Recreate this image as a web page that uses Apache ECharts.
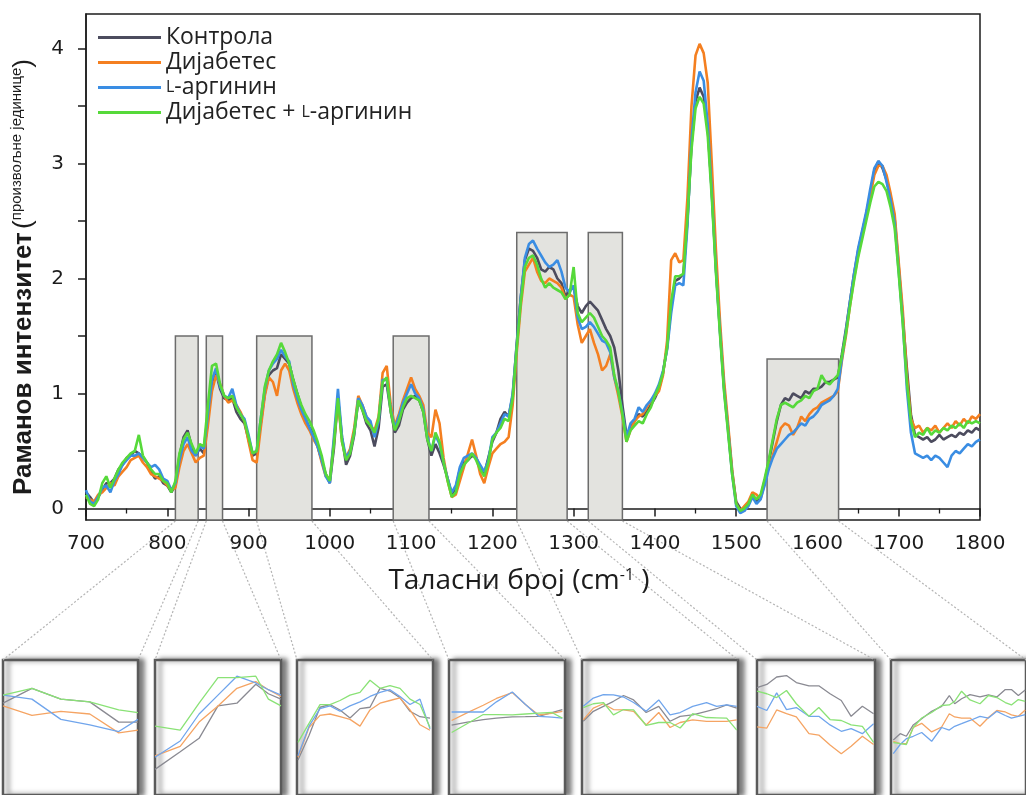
<!DOCTYPE html>
<html>
<head>
<meta charset="utf-8">
<script src="https://cdn.jsdelivr.net/npm/echarts@6/dist/echarts.min.js"></script>
<style>
  html, body { margin: 0; padding: 0; background: #fff; }
  #chart { width: 1026px; height: 795px; }
</style>
</head>
<body>
<div id="chart"></div>
<script>
// Raman spectra, 700–1800 cm⁻¹, sampled every 5 cm⁻¹
const WN_START = 700;
const WN_STEP = 5;

const seriesNames = ['Контрола', 'Дијабетес', 'L-аргинин', 'Дијабетес + L-аргинин'];
const seriesColors = ['#4c4c5e', '#f47f20', '#3a8de3', '#56d93a'];
const insetColors = ['#8a8a92', '#f5a463', '#70a5ec', '#8ae276'];

const control = [
  0.14,0.10,0.05,0.10,0.16,0.22,0.22,0.26,0.34,0.38,0.44,0.46,0.50,0.48,0.44,0.40,0.32,0.26,0.28,0.22,
  0.20,0.14,0.20,0.46,0.62,0.68,0.54,0.46,0.52,0.48,0.78,1.10,1.18,1.04,0.96,0.94,0.96,0.84,0.78,0.74,
  0.60,0.46,0.48,0.74,1.00,1.16,1.20,1.22,1.34,1.30,1.26,1.12,1.00,0.88,0.78,0.70,0.64,0.54,0.42,0.30,
  0.22,0.52,0.96,0.62,0.38,0.46,0.64,0.94,0.86,0.74,0.68,0.54,0.70,1.06,1.08,0.84,0.66,0.72,0.86,0.92,
  0.96,0.98,0.94,0.84,0.60,0.46,0.56,0.48,0.38,0.26,0.12,0.18,0.34,0.40,0.42,0.46,0.44,0.36,0.30,0.44,
  0.58,0.66,0.78,0.84,0.80,0.98,1.44,1.84,2.16,2.26,2.24,2.18,2.08,2.06,2.10,2.08,2.00,1.96,1.84,1.90,
  1.92,1.76,1.70,1.76,1.80,1.76,1.72,1.64,1.56,1.50,1.40,1.20,0.90,0.64,0.70,0.76,0.82,0.80,0.84,0.90,
  0.96,1.04,1.18,1.40,1.76,1.98,2.00,2.04,2.50,3.16,3.54,3.66,3.58,3.30,2.76,2.10,1.56,1.06,0.70,0.32,
  0.06,0.00,-0.02,0.04,0.12,0.06,0.10,0.24,0.40,0.58,0.76,0.90,0.96,0.94,1.00,0.98,0.96,1.02,1.00,1.04,
  1.04,1.06,1.10,1.10,1.12,1.14,1.34,1.56,1.80,2.04,2.24,2.40,2.56,2.74,2.94,3.02,2.96,2.86,2.70,2.52,
  2.10,1.66,1.22,0.82,0.64,0.62,0.60,0.62,0.58,0.60,0.64,0.60,0.62,0.64,0.62,0.66,0.64,0.68,0.66,0.70,
  0.68
];

const diabetes = [
  0.10,0.08,0.06,0.12,0.14,0.18,0.22,0.20,0.28,0.32,0.36,0.42,0.44,0.46,0.40,0.36,0.30,0.28,0.26,0.24,
  0.20,0.16,0.18,0.36,0.50,0.56,0.48,0.40,0.44,0.46,0.72,1.02,1.16,1.08,0.98,0.92,0.94,0.90,0.84,0.76,
  0.58,0.42,0.40,0.70,0.98,1.14,1.10,0.98,1.20,1.26,1.20,1.04,0.92,0.82,0.74,0.68,0.60,0.54,0.40,0.28,
  0.26,0.58,0.94,0.58,0.44,0.52,0.70,0.98,0.90,0.80,0.72,0.68,0.80,1.18,1.24,0.90,0.72,0.82,0.94,1.04,
  1.14,1.04,0.98,0.90,0.66,0.62,0.86,0.74,0.44,0.24,0.10,0.12,0.24,0.36,0.48,0.60,0.46,0.30,0.22,0.36,
  0.48,0.52,0.56,0.58,0.62,0.90,1.36,1.76,2.06,2.12,2.18,2.06,1.98,1.96,2.00,1.98,1.96,1.92,1.82,1.86,
  1.84,1.60,1.44,1.50,1.56,1.44,1.34,1.20,1.24,1.34,1.14,0.98,0.80,0.58,0.68,0.76,0.80,0.82,0.88,0.94,
  0.98,1.02,1.16,1.46,2.16,2.22,2.14,2.16,2.70,3.50,3.94,4.04,3.96,3.70,3.00,2.26,1.64,1.12,0.74,0.34,
  0.04,-0.02,0.02,0.06,0.14,0.12,0.08,0.22,0.36,0.46,0.58,0.70,0.74,0.72,0.64,0.70,0.80,0.76,0.82,0.86,
  0.88,0.92,0.94,0.96,0.98,1.02,1.28,1.50,1.76,2.00,2.20,2.38,2.54,2.72,2.90,2.98,2.98,2.90,2.74,2.56,
  2.14,1.72,1.16,0.78,0.70,0.72,0.66,0.70,0.68,0.72,0.66,0.70,0.74,0.70,0.76,0.72,0.78,0.74,0.80,0.78,
  0.82
];

const arginine = [
  0.16,0.06,0.04,0.10,0.18,0.20,0.14,0.24,0.30,0.38,0.42,0.46,0.46,0.48,0.44,0.40,0.36,0.38,0.34,0.26,
  0.24,0.16,0.22,0.42,0.56,0.62,0.50,0.46,0.54,0.52,0.82,1.12,1.22,1.06,0.98,0.96,1.04,0.90,0.82,0.78,
  0.64,0.48,0.50,0.78,1.04,1.20,1.26,1.30,1.38,1.32,1.28,1.08,0.96,0.86,0.78,0.70,0.62,0.54,0.42,0.28,
  0.22,0.62,1.04,0.62,0.44,0.50,0.66,0.96,0.90,0.80,0.76,0.62,0.76,1.12,1.12,0.86,0.70,0.80,0.92,1.00,
  1.08,1.00,0.96,0.86,0.62,0.50,0.64,0.56,0.40,0.26,0.14,0.20,0.36,0.44,0.46,0.48,0.44,0.38,0.32,0.42,
  0.62,0.66,0.74,0.82,0.80,1.00,1.42,1.84,2.18,2.30,2.33,2.26,2.20,2.14,2.10,2.12,2.16,2.06,1.92,1.88,
  1.94,1.66,1.56,1.58,1.62,1.58,1.52,1.46,1.44,1.36,1.14,1.02,0.84,0.62,0.74,0.78,0.88,0.84,0.90,0.94,
  1.00,1.08,1.20,1.38,1.70,1.94,1.96,1.94,2.46,3.20,3.62,3.80,3.72,3.34,2.74,2.08,1.54,1.04,0.68,0.30,
  0.02,-0.04,-0.02,0.02,0.10,0.04,0.08,0.20,0.34,0.44,0.52,0.56,0.60,0.64,0.66,0.70,0.74,0.72,0.78,0.80,
  0.84,0.90,0.92,0.94,0.98,1.04,1.30,1.54,1.80,2.04,2.26,2.42,2.58,2.78,2.96,3.02,2.98,2.84,2.68,2.48,
  2.06,1.62,1.04,0.66,0.48,0.46,0.44,0.46,0.42,0.46,0.44,0.40,0.36,0.46,0.50,0.48,0.52,0.56,0.54,0.58,
  0.60
];

const combined = [
  0.12,0.04,0.02,0.08,0.22,0.28,0.18,0.26,0.34,0.40,0.44,0.48,0.50,0.64,0.46,0.40,0.34,0.30,0.30,0.24,
  0.22,0.14,0.24,0.48,0.60,0.66,0.56,0.48,0.56,0.54,0.90,1.24,1.26,1.08,0.98,0.96,0.98,0.88,0.82,0.76,
  0.62,0.48,0.50,0.78,1.06,1.20,1.28,1.34,1.44,1.36,1.26,1.12,1.00,0.90,0.82,0.76,0.68,0.58,0.46,0.30,
  0.24,0.56,0.96,0.58,0.42,0.48,0.66,0.94,0.86,0.76,0.72,0.66,0.78,1.10,1.14,0.84,0.68,0.76,0.88,0.96,
  0.98,0.96,0.94,0.84,0.60,0.50,0.66,0.58,0.40,0.24,0.10,0.14,0.30,0.38,0.42,0.48,0.42,0.34,0.28,0.40,
  0.60,0.66,0.70,0.78,0.76,0.96,1.40,1.80,2.10,2.18,2.20,2.12,2.00,1.92,1.96,1.92,1.90,1.88,1.82,1.86,
  2.10,1.70,1.62,1.66,1.70,1.66,1.58,1.50,1.46,1.40,1.16,1.02,0.82,0.58,0.68,0.72,0.76,0.74,0.82,0.88,
  0.98,1.06,1.18,1.40,1.80,2.02,2.02,2.04,2.52,3.12,3.48,3.58,3.52,3.24,2.70,2.06,1.52,1.02,0.66,0.30,
  0.04,-0.02,0.00,0.04,0.12,0.08,0.12,0.26,0.42,0.60,0.78,0.90,0.92,0.90,0.88,0.92,0.94,0.98,0.96,1.02,
  1.04,1.16,1.10,1.08,1.12,1.16,1.32,1.52,1.76,1.98,2.18,2.34,2.50,2.66,2.80,2.84,2.82,2.76,2.62,2.44,
  2.04,1.60,1.10,0.76,0.62,0.66,0.64,0.70,0.64,0.68,0.66,0.70,0.68,0.72,0.70,0.74,0.70,0.76,0.74,0.76,
  0.74
];

// highlighted bands: [from, to, height]
const regions = [
  [810, 838, 1.5], [848, 868, 1.5], [910, 978, 1.5], [1078, 1122, 1.5],
  [1230, 1292, 2.4], [1318, 1360, 2.4], [1538, 1626, 1.3]
];

// magnified views of each band (relative intensity, 1 = top of the frame)
const insetWn = [
  [810, 816, 822, 828, 834, 838],
  [848, 852, 855, 858, 861, 864, 866, 868],
  [910.5, 916, 921.5, 926.5, 931.5, 936.5, 941.5, 946.5, 951.5, 956.5, 961.5, 966.5, 971.5, 976.5],
  [1079, 1085, 1091, 1096, 1102, 1107, 1112, 1117, 1121],
  [1230.5, 1234.5, 1238.5, 1242.5, 1246.5, 1250.5, 1255.5, 1260.5, 1265, 1269, 1274, 1279.5, 1283.5, 1287.5, 1291.5],
  [1318, 1321.5, 1325, 1328.5, 1332, 1336.5, 1340, 1344, 1348, 1351.5, 1355.5, 1359.5],
  [1539.5, 1544, 1548, 1552.5, 1558, 1564.5, 1571, 1576, 1579.5, 1584, 1589.5, 1596, 1601.5, 1607, 1612.5, 1616.5, 1621, 1625.5]
];
const insetControl = [
  [0.68, 0.79, 0.71, 0.69, 0.54, 0.54],
  [0.19, 0.32, 0.42, 0.66, 0.68, 0.82, 0.75, 0.71],
  [0.26, 0.44, 0.65, 0.67, 0.63, 0.57, 0.64, 0.65, 0.79, 0.77, 0.72, 0.62, 0.58, 0.57],
  [0.518, 0.54, 0.559, 0.57, 0.578, 0.58, 0.583, 0.61, 0.633],
  [0.546, 0.62, 0.657, 0.694, 0.737, 0.704, 0.611, 0.657, 0.546, 0.583, 0.593, 0.62, 0.639, 0.667, 0.644],
  [0.796, 0.819, 0.874, 0.885, 0.833, 0.809, 0.809, 0.75, 0.70, 0.583, 0.657, 0.602],
  [0.407, 0.454, 0.435, 0.519, 0.565, 0.62, 0.657, 0.737, 0.676, 0.713, 0.744, 0.726, 0.741, 0.726, 0.781, 0.781, 0.737, 0.778]
];
const insetDiabetes = [
  [0.66, 0.59, 0.62, 0.60, 0.46, 0.48],
  [0.29, 0.36, 0.54, 0.66, 0.79, 0.84, 0.78, 0.73],
  [0.28, 0.50, 0.59, 0.60, 0.58, 0.56, 0.51, 0.63, 0.68, 0.70, 0.72, 0.63, 0.52, 0.48],
  [0.552, 0.61, 0.665, 0.715, 0.759, 0.67, 0.593, 0.605, 0.62],
  [0.556, 0.644, 0.676, 0.633, 0.63, 0.62, 0.519, 0.611, 0.50, 0.537, 0.556, 0.546, 0.546, 0.546, 0.556],
  [0.504, 0.496, 0.63, 0.602, 0.578, 0.454, 0.444, 0.37, 0.306, 0.361, 0.435, 0.374],
  [0.398, 0.38, 0.38, 0.50, 0.531, 0.467, 0.504, 0.602, 0.578, 0.57, 0.57, 0.509, 0.574, 0.626, 0.615, 0.593, 0.583, 0.63]
];
const insetArginine = [
  [0.74, 0.71, 0.56, 0.52, 0.47, 0.56],
  [0.28, 0.40, 0.60, 0.74, 0.88, 0.83, 0.78, 0.74],
  [0.29, 0.51, 0.64, 0.66, 0.62, 0.66, 0.69, 0.73, 0.76, 0.78, 0.73, 0.67, 0.71, 0.49],
  [0.615, 0.615, 0.615, 0.69, 0.763, 0.67, 0.583, 0.577, 0.57],
  [0.657, 0.718, 0.744, 0.741, 0.726, 0.685, 0.62, 0.704, 0.593, 0.611, 0.657, 0.685, 0.657, 0.667, 0.657],
  [0.657, 0.626, 0.756, 0.633, 0.648, 0.583, 0.583, 0.519, 0.472, 0.491, 0.454, 0.528],
  [0.306, 0.374, 0.417, 0.435, 0.463, 0.398, 0.50, 0.481, 0.509, 0.528, 0.552, 0.583, 0.57, 0.62, 0.589, 0.57, 0.583, 0.596]
];
const insetCombined = [
  [0.74, 0.79, 0.71, 0.69, 0.63, 0.61],
  [0.51, 0.48, 0.68, 0.87, 0.87, 0.88, 0.71, 0.66],
  [0.39, 0.53, 0.67, 0.67, 0.70, 0.74, 0.76, 0.85, 0.79, 0.81, 0.79, 0.71, 0.67, 0.50],
  [0.463, 0.53, 0.596, 0.595, 0.593, 0.60, 0.607, 0.611, 0.57],
  [0.648, 0.676, 0.685, 0.593, 0.633, 0.63, 0.515, 0.537, 0.537, 0.496, 0.602, 0.574, 0.572, 0.57, 0.481],
  [0.769, 0.75, 0.722, 0.774, 0.676, 0.583, 0.648, 0.559, 0.552, 0.519, 0.509, 0.389],
  [0.389, 0.38, 0.374, 0.50, 0.57, 0.611, 0.663, 0.667, 0.694, 0.769, 0.704, 0.676, 0.737, 0.722, 0.685, 0.667, 0.707, 0.694]
];

const xTickLabels = [700, 800, 900, 1000, 1100, 1200, 1300, 1400, 1500, 1600, 1700, 1800];
const yTickLabels = [0, 1, 2, 3, 4];
const yTicks = [0, 0.5, 1, 1.5, 2, 2.5, 3, 3.5, 4];

// ---- layout ----
const Y_MIN = -0.1, Y_MAX = 4.3;
const MAIN = { left: 86, top: 14, width: 894, height: 506 };
const INSET_TOP = 660, INSET_H = 180;
const insetBoxes = [[3, 135], [155, 126], [297, 136], [449, 116], [582, 156], [757, 118], [891, 136]];
const AXIS_COLOR = '#1c1c1c';

const wavenumbers = control.map((_, i) => WN_START + i * WN_STEP);
const spectra = [control, diabetes, arginine, combined];
const insetSets = [insetControl, insetDiabetes, insetArginine, insetCombined];

const chart = echarts.init(document.getElementById('chart'), null, { renderer: 'canvas' });

const grids = [Object.assign({
  show: true, borderColor: AXIS_COLOR, borderWidth: 1.5, backgroundColor: 'transparent'
}, MAIN)];
const xAxes = [{
  gridIndex: 0, type: 'value', min: 700, max: 1800, interval: 100,
  axisLine: { show: true, lineStyle: { color: AXIS_COLOR, width: 1.5 } },
  axisTick: { show: true, length: 8, lineStyle: { color: AXIS_COLOR, width: 1.5 } },
  minorTick: { show: true, splitNumber: 2, length: 5, lineStyle: { color: AXIS_COLOR, width: 1.3 } },
  splitLine: { show: false },
  axisLabel: {
    customValues: xTickLabels,
    formatter: v => String(v),
    fontFamily: 'DejaVu Sans', fontSize: 20, color: AXIS_COLOR, margin: 14
  },
  name: 'Таласни број (cm{sup|-1} )',
  nameLocation: 'middle', nameGap: 47,
  nameTextStyle: {
    fontFamily: 'Open Sans', fontSize: 28, color: AXIS_COLOR, padding: [0, 28, 0, 0],
    rich: { sup: { fontFamily: 'Open Sans', fontSize: 16, color: AXIS_COLOR, verticalAlign: 'top', lineHeight: 18 } }
  }
}];
const yAxes = [{
  gridIndex: 0, type: 'value', min: Y_MIN, max: Y_MAX,
  axisLine: { show: true, lineStyle: { color: AXIS_COLOR, width: 1.5 } },
  axisTick: { show: true, length: 8, customValues: yTicks, lineStyle: { color: AXIS_COLOR, width: 1.5 } },
  splitLine: { show: false },
  axisLabel: {
    customValues: yTickLabels,
    fontFamily: 'DejaVu Sans', fontSize: 20, color: AXIS_COLOR, margin: 22
  },
  name: '{b|Раманов интензитет} {p|(}{s|произвољне јединице}{p|)}',
  nameLocation: 'middle', nameRotate: 90, nameGap: 47,
  nameTextStyle: {
    padding: [0, 20, 0, 0],
    rich: {
      b: { fontFamily: 'Liberation Sans', fontWeight: 'bold', fontSize: 26, color: AXIS_COLOR, lineHeight: 30 },
      p: { fontFamily: 'Liberation Sans', fontSize: 26, color: AXIS_COLOR, lineHeight: 30 },
      s: { fontFamily: 'Liberation Sans', fontSize: 15, color: AXIS_COLOR, verticalAlign: 'top', lineHeight: 22 }
    }
  }
}];

const series = [{
  type: 'custom', name: 'bands', xAxisIndex: 0, yAxisIndex: 0, z: 1, silent: true,
  data: regions,
  encode: { x: [0, 1], y: 2 },
  renderItem: function (params, api) {
    const p0 = api.coord([api.value(0), api.value(2)]);
    const p1 = api.coord([api.value(1), Y_MIN]);
    return {
      type: 'rect',
      shape: { x: p0[0], y: p0[1], width: p1[0] - p0[0], height: p1[1] - p0[1] },
      style: { fill: '#e3e3df', stroke: '#6c6c6c', lineWidth: 1.5 }
    };
  }
}];

spectra.forEach((vals, s) => {
  series.push({
    type: 'line', name: seriesNames[s], xAxisIndex: 0, yAxisIndex: 0, z: 3 + s,
    data: wavenumbers.map((x, i) => [x, vals[i]]),
    symbol: 'none', showSymbol: false, smooth: false,
    lineStyle: { width: 2.6, color: seriesColors[s] },
    itemStyle: { color: seriesColors[s] }
  });
});

regions.forEach((r, k) => {
  const g = k + 1;
  grids.push({
    left: insetBoxes[k][0], width: insetBoxes[k][1], top: INSET_TOP, height: INSET_H,
    show: true, backgroundColor: '#ffffff', borderColor: '#5a5a5a', borderWidth: 2.5,
    shadowColor: 'rgba(0,0,0,0.5)', shadowBlur: 5, shadowOffsetX: 5, shadowOffsetY: 0
  });
  xAxes.push({ gridIndex: g, type: 'value', min: r[0], max: r[1], show: false });
  yAxes.push({ gridIndex: g, type: 'value', min: 0, max: 1, show: false });
  insetSets.forEach((set, s) => {
    series.push({
      type: 'line', name: seriesNames[s], xAxisIndex: g, yAxisIndex: g, z: 3 + s,
      data: insetWn[k].map((x, i) => [x, set[k][i]]),
      symbol: 'none', showSymbol: false, silent: true,
      lineStyle: { width: 1.3, color: insetColors[s] },
      itemStyle: { color: seriesColors[s] }
    });
  });
});

chart.setOption({
  animation: false,
  backgroundColor: '#ffffff',
  grid: grids,
  xAxis: xAxes,
  yAxis: yAxes,
  legend: {
    data: seriesNames,
    orient: 'vertical', left: 93, top: 20,
    icon: 'rect', itemWidth: 63, itemHeight: 3, itemGap: 0,
    formatter: n => n.replace('L-', '{sc|L}-'),
    textStyle: {
      fontFamily: 'Open Sans', fontSize: 23, color: '#222', lineHeight: 25,
      rich: { sc: { fontFamily: 'Open Sans', fontSize: 16, color: '#222', lineHeight: 25 } }
    }
  },
  series: series
});

// dotted leader lines from each band to its magnified frame
const leaders = [];
regions.forEach((r, k) => {
  const a = chart.convertToPixel({ gridIndex: 0 }, [r[0], Y_MIN]);
  const b = chart.convertToPixel({ gridIndex: 0 }, [r[1], Y_MIN]);
  const c = chart.convertToPixel({ gridIndex: k + 1 }, [r[0], 1]);
  const d = chart.convertToPixel({ gridIndex: k + 1 }, [r[1], 1]);
  [[a, c], [b, d]].forEach(([p, q]) => {
    leaders.push({
      type: 'line', silent: true, z: 0,
      shape: { x1: p[0], y1: p[1] + 1, x2: q[0], y2: q[1] },
      style: { stroke: '#b4b4b4', lineWidth: 1.2, lineDash: [2, 2] }
    });
  });
});
chart.setOption({ graphic: leaders });
</script>
</body>
</html>
